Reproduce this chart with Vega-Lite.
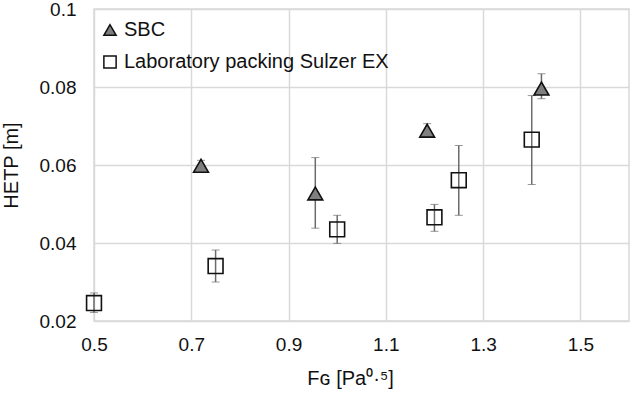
{
  "$schema": "https://vega.github.io/schema/vega-lite/v6.json",
  "width": 535,
  "height": 312,
  "autosize": {"type": "none"},
  "padding": {"left": 94, "top": 9, "right": 1, "bottom": 76},
  "background": "white",
  "config": {
    "font": "Liberation Sans",
    "view": {"stroke": "#d9d9d9", "strokeWidth": 1.5},
    "axis": {
      "gridColor": "#d9d9d9",
      "gridWidth": 1.5,
      "domain": false,
      "ticks": false,
      "labelFlush": false,
      "labelFontSize": 19,
      "labelColor": "#111",
      "titleFontSize": 20,
      "titleFontWeight": "normal",
      "titleColor": "#111"
    }
  },
  "data": {
    "values": [
      {"series": "SBC", "x": 0.72, "y": 0.0598, "lo": 0.0595, "hi": 0.0612},
      {"series": "SBC", "x": 0.955, "y": 0.0527, "lo": 0.0438, "hi": 0.0619},
      {"series": "SBC", "x": 1.185, "y": 0.0688, "lo": 0.0685, "hi": 0.0706},
      {"series": "SBC", "x": 1.42, "y": 0.0796, "lo": 0.077, "hi": 0.0834},
      {"series": "Laboratory packing Sulzer EX", "x": 0.5, "y": 0.0246, "lo": 0.0222, "hi": 0.0272},
      {"series": "Laboratory packing Sulzer EX", "x": 0.75, "y": 0.0341, "lo": 0.030, "hi": 0.0382},
      {"series": "Laboratory packing Sulzer EX", "x": 1.0, "y": 0.0435, "lo": 0.0399, "hi": 0.0471},
      {"series": "Laboratory packing Sulzer EX", "x": 1.2, "y": 0.0466, "lo": 0.043, "hi": 0.0499},
      {"series": "Laboratory packing Sulzer EX", "x": 1.25, "y": 0.0561, "lo": 0.0471, "hi": 0.065},
      {"series": "Laboratory packing Sulzer EX", "x": 1.4, "y": 0.0665, "lo": 0.055, "hi": 0.0778}
    ]
  },
  "layer": [
    {
      "mark": {"type": "errorbar", "ticks": {"size": 8, "color": "#6b6b6b", "strokeWidth": 1.5}, "rule": {"color": "#6b6b6b", "strokeWidth": 1.5}},
      "encoding": {
        "x": {"field": "x", "type": "quantitative", "scale": {"domain": [0.5, 1.6], "nice": false, "zero": false},
              "axis": {"values": [0.5, 0.7, 0.9, 1.1, 1.3, 1.5], "format": "~g", "labelPadding": 14, "title": "Fɢ [Pa⁰·⁵]", "titlePadding": 14, "titleX": 256}},
        "y": {"field": "lo", "type": "quantitative", "scale": {"domain": [0.02, 0.1], "nice": false, "zero": false},
              "axis": {"values": [0.02, 0.04, 0.06, 0.08, 0.1], "format": "~g", "labelPadding": 18, "title": "HETP [m]", "titlePadding": 18}},
        "y2": {"field": "hi"}
      }
    },
    {
      "mark": {"type": "point", "strokeWidth": 1.6, "opacity": 1},
      "encoding": {
        "x": {"field": "x", "type": "quantitative"},
        "y": {"field": "y", "type": "quantitative"},
        "shape": {"field": "series", "type": "nominal",
                  "scale": {"domain": ["SBC", "Laboratory packing Sulzer EX"], "range": ["triangle-up", "square"]},
                  "legend": {"title": null, "orient": "none", "legendX": 6, "legendY": 11, "labelFontSize": 20, "labelLimit": 400, "labelColor": "#111", "symbolSize": 150, "rowPadding": 12, "labelOffset": 4, "symbolStrokeWidth": 1.5}},
        "fill": {"field": "series", "type": "nominal",
                 "scale": {"domain": ["SBC", "Laboratory packing Sulzer EX"], "range": ["#7f7f7f", "transparent"]}, "legend": null},
        "stroke": {"field": "series", "type": "nominal",
                   "scale": {"domain": ["SBC", "Laboratory packing Sulzer EX"], "range": ["#111", "#111"]}, "legend": null},
        "size": {"value": 220}
      }
    }
  ]
}
